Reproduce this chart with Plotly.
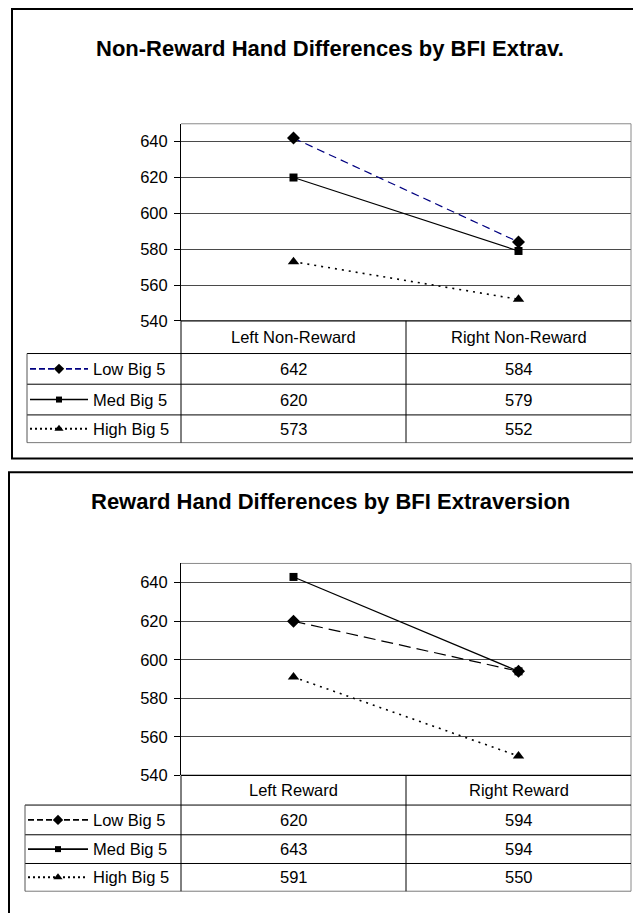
import plotly.graph_objects as go

# ---------------- data ----------------
categories_top = ["Left Non-Reward", "Right Non-Reward"]
categories_bot = ["Left Reward", "Right Reward"]
series_names = ["Low Big 5", "Med Big 5", "High Big 5"]

low_top = [642, 584]
med_top = [620, 579]
high_top = [573, 552]

low_bot = [620, 594]
med_bot = [643, 594]
high_bot = [591, 550]

y_ticks = [540, 560, 580, 600, 620, 640]
title_top = "Non-Reward Hand Differences by BFI Extrav."
title_bot = "Reward Hand Differences by BFI Extraversion"

# ---------------- layout helpers (pixels) ----------------
W, H = 633, 922
FONT = "Liberation Sans, Arial, sans-serif"
PLOT_L, PLOT_R = 181, 631
COL_DIV = 406

panels = [
    dict(cats=categories_top, vals=[low_top, med_top, high_top], title=title_top,
         plot_top=125, plot_bot=324, rows=[324, 357, 388, 419, 447], tab_l=27,
         box=(12, 9, 700, 463), title_y=49,
         styles=[dict(color="#000080", dash="8px,5px", key="6px,3px", w=1.2),
                 dict(color="black", dash="solid", key="solid", w=1.2),
                 dict(color="black", dash="2px,5px", key="2px,3px", w=1.6)]),
    dict(cats=categories_bot, vals=[low_bot, med_bot, high_bot], title=title_bot,
         plot_top=569, plot_bot=783, rows=[783, 813, 843, 872, 900], tab_l=25,
         box=(9, 477, 700, 1000), title_y=506,
         styles=[dict(color="black", dash="12px,6px", key="6px,3px", w=1.2),
                 dict(color="black", dash="solid", key="solid", w=1.2),
                 dict(color="black", dash="2px,5px", key="2px,3px", w=1.6)]),
]
markers = [dict(symbol="diamond", size=10), dict(symbol="square", size=8),
           dict(symbol="triangle-up", size=10)]

fig = go.Figure()
shapes = []
annotations = []

def px_x(p):
    return p / W

def px_y(p):
    return 1 - p / H

for i, pnl in enumerate(panels):
    ax = "" if i == 0 else "2"
    for s, vals in enumerate(pnl["vals"]):
        st = pnl["styles"][s]
        fig.add_trace(go.Scatter(
            x=pnl["cats"], y=vals, mode="lines+markers",
            line=dict(color=st["color"], width=st["w"], dash=st["dash"]),
            marker=dict(color="black", symbol=markers[s]["symbol"], size=markers[s]["size"]),
            xaxis="x" + ax, yaxis="y" + ax, showlegend=False, hoverinfo="skip",
            cliponaxis=False))

    # panel border
    x0, y0, x1, y1 = pnl["box"]
    shapes.append(dict(type="rect", xref="x3", yref="y3", x0=x0, y0=y0, x1=x1, y1=y1,
                       line=dict(color="black", width=2), layer="below"))
    # title
    annotations.append(dict(text="<b>" + pnl["title"] + "</b>", xref="x3", yref="y3",
                            x=330, y=pnl["title_y"], showarrow=False,
                            font=dict(family=FONT, size=22, color="black"),
                            xanchor="center", yanchor="middle"))
    # plot area top & right border (gray)
    shapes.append(dict(type="line", xref="x3", yref="y3", x0=PLOT_L, x1=PLOT_R,
                       y0=pnl["plot_top"], y1=pnl["plot_top"], line=dict(color="#8a8a8a", width=1)))
    shapes.append(dict(type="line", xref="x3", yref="y3", x0=PLOT_R, x1=PLOT_R,
                       y0=pnl["plot_top"], y1=pnl["rows"][-1], line=dict(color="#8a8a8a", width=1)))
    # table lines
    rows = pnl["rows"]
    shapes.append(dict(type="line", xref="x3", yref="y3", x0=PLOT_L, x1=PLOT_R,
                       y0=rows[0], y1=rows[0], line=dict(color="black", width=1.2)))
    for r in rows[1:-1]:
        shapes.append(dict(type="line", xref="x3", yref="y3", x0=pnl["tab_l"], x1=PLOT_R,
                           y0=r, y1=r, line=dict(color="black", width=1)))
    shapes.append(dict(type="line", xref="x3", yref="y3", x0=pnl["tab_l"], x1=PLOT_R,
                       y0=rows[-1], y1=rows[-1], line=dict(color="#7a7a7a", width=1)))
    shapes.append(dict(type="line", xref="x3", yref="y3", x0=PLOT_L, x1=PLOT_L,
                       y0=rows[0], y1=rows[-1], line=dict(color="black", width=1)))
    shapes.append(dict(type="line", xref="x3", yref="y3", x0=COL_DIV, x1=COL_DIV,
                       y0=rows[0], y1=rows[-1], line=dict(color="black", width=1)))
    shapes.append(dict(type="line", xref="x3", yref="y3", x0=pnl["tab_l"], x1=pnl["tab_l"],
                       y0=rows[1], y1=rows[-1], line=dict(color="#555555", width=1)))
    # header labels
    col_centers = [(PLOT_L + COL_DIV) / 2, (COL_DIV + PLOT_R) / 2]
    hy = (rows[0] + rows[1]) / 2
    for c, cat in enumerate(pnl["cats"]):
        annotations.append(dict(text=cat, xref="x3", yref="y3", x=col_centers[c], y=hy,
                                showarrow=False, font=dict(family=FONT, size=16.5, color="black"),
                                xanchor="center", yanchor="middle"))
    # rows: legend key + name + values
    for s, vals in enumerate(pnl["vals"]):
        ry = (rows[s + 1] + rows[s + 2]) / 2
        st = pnl["styles"][s]
        kx0 = pnl["tab_l"] + 3
        kx1 = 88
        fig.add_trace(go.Scatter(
            x=[kx0, kx1], y=[ry, ry], mode="lines",
            line=dict(color=st["color"], width=st["w"] + 0.4, dash=st["key"]),
            xaxis="x3", yaxis="y3", showlegend=False, hoverinfo="skip"))
        fig.add_trace(go.Scatter(
            x=[(kx0 + kx1) / 2], y=[ry], mode="markers",
            marker=dict(color="black", symbol=markers[s]["symbol"], size=markers[s]["size"] - 2),
            xaxis="x3", yaxis="y3", showlegend=False, hoverinfo="skip"))
        annotations.append(dict(text=series_names[s], xref="x3", yref="y3", x=91, y=ry,
                                showarrow=False, font=dict(family=FONT, size=16.5, color="black"),
                                xanchor="left", yanchor="middle"))
        for c, v in enumerate(vals):
            annotations.append(dict(text=str(v), xref="x3", yref="y3", x=col_centers[c], y=ry,
                                    showarrow=False, font=dict(family=FONT, size=16.5, color="black"),
                                    xanchor="center", yanchor="middle"))

def yaxis_cfg(pnl, anchor):
    return dict(domain=[px_y(pnl["plot_bot"]), px_y(pnl["plot_top"])], range=[540, 650],
                tickvals=y_ticks, ticks="outside", ticklen=6, tickcolor="black", tickwidth=1,
                showline=True, linecolor="black", linewidth=1, showgrid=True,
                gridcolor="#4a4a4a", gridwidth=1, zeroline=False, anchor=anchor,
                tickfont=dict(family=FONT, size=16.5, color="black"), fixedrange=True,
                ticklabelstandoff=3)

def xaxis_cfg(pnl, anchor, cats):
    return dict(domain=[px_x(PLOT_L), px_x(PLOT_R)], range=[-0.5, 1.5], type="category",
                categoryarray=cats, showticklabels=False, showgrid=False, zeroline=False,
                showline=False, ticks="", anchor=anchor, fixedrange=True)

fig.update_layout(
    width=W, height=H, margin=dict(l=0, r=0, t=0, b=0),
    paper_bgcolor="white", plot_bgcolor="rgba(0,0,0,0)", showlegend=False,
    xaxis=xaxis_cfg(panels[0], "y", categories_top),
    yaxis=yaxis_cfg(panels[0], "x"),
    xaxis2=xaxis_cfg(panels[1], "y2", categories_bot),
    yaxis2=yaxis_cfg(panels[1], "x2"),
    xaxis3=dict(domain=[0, 1], range=[0, W], visible=False, anchor="y3", fixedrange=True),
    yaxis3=dict(domain=[0, 1], range=[H, 0], visible=False, anchor="x3", fixedrange=True),
    shapes=shapes, annotations=annotations,
)

fig.write_html("out.html")
